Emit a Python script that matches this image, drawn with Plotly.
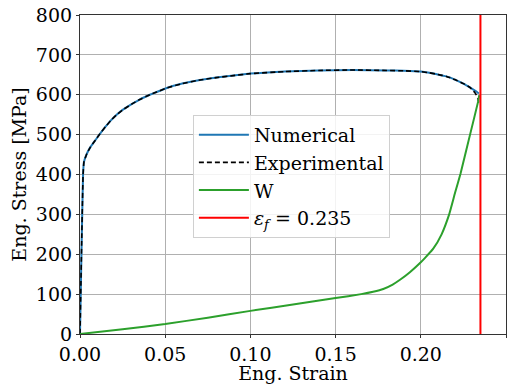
import plotly.graph_objects as go

# Stress-strain curves
strain = [0.0, 0.001, 0.0018, 0.0023, 0.004, 0.006, 0.009, 0.0117, 0.015, 0.018, 0.0215,
          0.025, 0.0313, 0.035, 0.041, 0.045, 0.0509, 0.06, 0.0704, 0.08, 0.09, 0.1, 0.12,
          0.14, 0.16, 0.18, 0.19, 0.2, 0.205, 0.21, 0.215, 0.22, 0.225, 0.229]
stress_num = [0, 234, 400, 431, 452, 468, 486, 502, 520, 535, 550,
              562, 579, 588, 600, 607, 617, 628, 637, 643, 648, 653, 658,
              661, 662, 661, 660, 658, 655, 651, 646, 638, 628, 618]
stress_exp = list(stress_num)
num_tail_strain = [0.232, 0.2341]
num_tail_stress = [610, 603]
exp_tail_strain = [0.2318, 0.2335, 0.2340]
exp_tail_stress = [605, 592, 578]

# W curve
w_strain = [0.0, 0.025, 0.05, 0.075, 0.1, 0.125, 0.15, 0.165, 0.172, 0.178, 0.1835, 0.1878,
            0.1936, 0.2, 0.2025, 0.2073, 0.2122, 0.2165, 0.2201, 0.2233, 0.2289, 0.2337, 0.2343]
w_vals = [0, 12, 25, 41, 58, 74, 90, 100, 106, 113, 124, 136,
          155, 180, 191, 214, 250, 298, 354, 402, 500, 584, 599]

eps_f = 0.235
x_ticks = [0.0, 0.05, 0.10, 0.15, 0.20, 0.25]
y_ticks = [0, 100, 200, 300, 400, 500, 600, 700, 800]

font = dict(family="DejaVu Serif", size=19, color="black")

fig = go.Figure()
fig.add_trace(go.Scatter(x=strain + num_tail_strain, y=stress_num + num_tail_stress,
                         mode="lines", name="Numerical",
                         line=dict(color="#1f77b4", width=2, shape="spline", smoothing=0.3)))
fig.add_trace(go.Scatter(x=strain + exp_tail_strain, y=stress_exp + exp_tail_stress,
                         mode="lines", name="Experimental",
                         line=dict(color="black", width=1.6, dash="5px,3px",
                                   shape="spline", smoothing=0.3)))
fig.add_trace(go.Scatter(x=w_strain, y=w_vals, mode="lines", name="W",
                         line=dict(color="#2ca02c", width=2, shape="spline", smoothing=0.4)))
fig.add_trace(go.Scatter(x=[eps_f, eps_f], y=[0, 800], mode="lines",
                         name="<i>ε</i><sub><i>f</i></sub> = 0.235",
                         line=dict(color="red", width=2)))

axis_common = dict(showline=True, linecolor="#333", linewidth=1.2, mirror=True,
                   ticks="outside", ticklen=3, tickcolor="#333",
                   showgrid=True, gridcolor="#b0b0b0", gridwidth=1,
                   zeroline=False, tickfont=font, title_font=font, automargin=False)

fig.update_xaxes(range=[0, 0.25], tickvals=x_ticks,
                 ticktext=[f"{v:.2f}" for v in x_ticks],
                 title_text="Eng. Strain", title_standoff=0, **axis_common)
fig.update_yaxes(range=[0, 800], tickvals=y_ticks,
                 ticktext=[str(v) for v in y_ticks],
                 title_text="Eng. Stress [MPa]", title_standoff=4, **axis_common)

fig.update_layout(
    width=527, height=384,
    margin=dict(l=80, r=21, t=15, b=50),
    plot_bgcolor="white", paper_bgcolor="white",
    font=font,
    legend=dict(x=0.265, y=0.687, xanchor="left", yanchor="top",
                bgcolor="rgba(255,255,255,0.85)", bordercolor="#d0d0d0", borderwidth=1,
                font=dict(family="DejaVu Serif", size=19, color="black"),
                itemwidth=50),
    showlegend=True,
)

fig.write_html("out.html")
